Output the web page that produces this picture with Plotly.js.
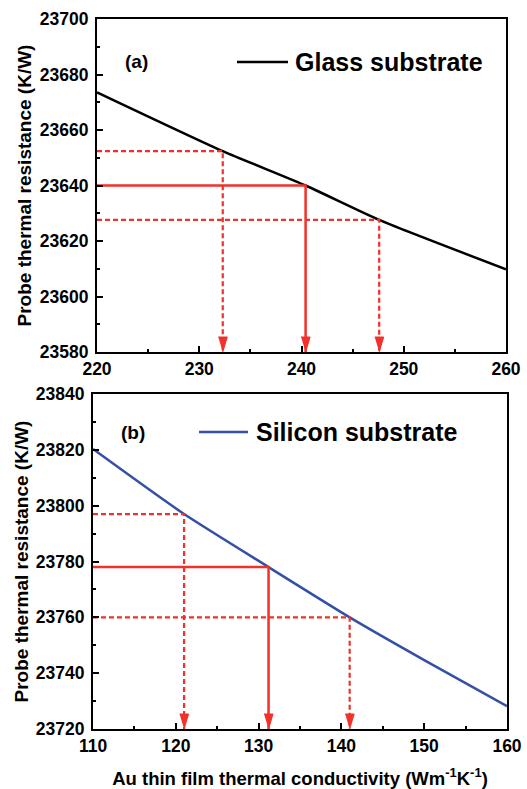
<!DOCTYPE html>
<html><head><meta charset="utf-8">
<script src="https://cdn.plot.ly/plotly-3.0.1.min.js"></script>
<style>html,body{margin:0;padding:0;background:#fff}#chart{width:527px;height:789px}</style>
</head><body><div id="chart"></div>
<script>
// ---- data ----
const glassK = [220, 232.3, 240.4, 247.6, 260];
const glassR = [23673.6, 23652.4, 23640, 23627.6, 23609.8];
const siK = [110, 121, 131.2, 141, 150, 160];
const siR = [23820.3, 23797, 23778, 23760, 23744.7, 23728.2];
// read-off guide lines: conductivity / resistance
const glassRefK = [232.3, 240.4, 247.6];
const glassRefR = [23652.4, 23640, 23627.6];
const siRefK = [121, 131.2, 141];
const siRefR = [23797, 23778, 23760];
const refStyle = ['dash', 'solid', 'dash'];
const glassXRange = [220, 260], glassYRange = [23580, 23700];
const siXRange = [110, 160], siYRange = [23720, 23840];
const xTitle = 'Au thin film thermal conductivity (Wm<sup>-1</sup>K<sup>-1</sup>)';
const yTitle = 'Probe thermal resistance (K/W)';

// ---- layout geometry ----
const W = 527, H = 789;
const topBox = {l: 97, r: 506, t: 19, b: 352};
const botBox = {l: 93, r: 507, t: 394, b: 729};
const RED = '#f2312b', BLUE = '#3450a6';
const FONT = 'Liberation Sans, Arial, sans-serif';

function refTraces(ks, rs, xr, yr, xa, ya, box) {
  const out = [];
  ks.forEach((k, i) => {
    out.push({
      x: [xr[0], k, k], y: [rs[i], rs[i], yr[0]], xaxis: xa, yaxis: ya,
      mode: 'lines', hoverinfo: 'skip',
      line: {color: RED, width: refStyle[i] === 'solid' ? 2.5 : 2.2,
             dash: refStyle[i] === 'solid' ? 'solid' : '5px,3px'}
    });
  });
  // arrow heads (triangles) at the bottom axis, sized in pixels
  const pxX = (xr[1] - xr[0]) / (box.r - box.l);
  const pxY = (yr[1] - yr[0]) / (box.b - box.t);
  const hw = 4.5 * pxX, hl = 15 * pxY;
  const ax = [], ay = [];
  ks.forEach(k => {
    ax.push(k - hw, k + hw, k, null);
    ay.push(yr[0] + hl, yr[0] + hl, yr[0], null);
  });
  out.push({x: ax, y: ay, xaxis: xa, yaxis: ya, mode: 'lines', fill: 'toself',
            fillcolor: RED, line: {color: RED, width: 1}, hoverinfo: 'skip'});
  return out;
}

const data = [
  {x: glassK, y: glassR, xaxis: 'x', yaxis: 'y', mode: 'lines', name: 'Glass substrate',
   line: {color: '#000', width: 2.5, shape: 'spline', smoothing: 0.6}},
  ...refTraces(glassRefK, glassRefR, glassXRange, glassYRange, 'x', 'y', topBox),
  {x: siK, y: siR, xaxis: 'x2', yaxis: 'y2', mode: 'lines', name: 'Silicon substrate',
   line: {color: BLUE, width: 2.5, shape: 'spline', smoothing: 0.6}},
  ...refTraces(siRefK, siRefR, siXRange, siYRange, 'x2', 'y2', botBox),
];

const tickFont = {family: FONT, size: 17.5, color: '#000', weight: 'bold'};
function axisBase() {
  return {
    ticks: 'inside', ticklen: 6, tickwidth: 2, tickcolor: '#000',
    showline: true, linewidth: 2, linecolor: '#000', mirror: true,
    showgrid: false, zeroline: false, tickfont: tickFont, fixedrange: true,
    tickformat: 'd', exponentformat: 'none'
  };
}

const layout = {
  width: W, height: H, margin: {l: 0, r: 0, t: 0, b: 0},
  font: {family: FONT, size: 17, color: '#000', weight: 'bold'},
  paper_bgcolor: '#fff', plot_bgcolor: '#fff', showlegend: false,
  xaxis: Object.assign(axisBase(), {
    domain: [topBox.l / W, topBox.r / W], range: glassXRange, anchor: 'y',
    tick0: 220, dtick: 10, minor: {dtick: 5, ticks: 'inside', ticklen: 3, tickwidth: 2, tickcolor: '#000'}
  }),
  yaxis: Object.assign(axisBase(), {
    domain: [1 - topBox.b / H, 1 - topBox.t / H], range: glassYRange, anchor: 'x',
    tick0: 23580, dtick: 20, ticklabelstandoff: 3,
    minor: {dtick: 10, ticks: 'inside', ticklen: 3, tickwidth: 2, tickcolor: '#000'},
    title: {text: yTitle, font: {family: FONT, size: 19, color: '#000', weight: 'bold'}, standoff: 3}
  }),
  xaxis2: Object.assign(axisBase(), {
    domain: [botBox.l / W, botBox.r / W], range: siXRange, anchor: 'y2',
    tick0: 110, dtick: 10, minor: {dtick: 5, ticks: 'inside', ticklen: 3, tickwidth: 2, tickcolor: '#000'},
    title: {text: xTitle, font: {family: FONT, size: 18.5, color: '#000', weight: 'bold'}, standoff: 29}
  }),
  yaxis2: Object.assign(axisBase(), {
    domain: [1 - botBox.b / H, 1 - botBox.t / H], range: siYRange, anchor: 'x2',
    tick0: 23720, dtick: 20, ticklabelstandoff: 3,
    minor: {dtick: 10, ticks: 'inside', ticklen: 3, tickwidth: 2, tickcolor: '#000'},
    title: {text: yTitle, font: {family: FONT, size: 19, color: '#000', weight: 'bold'}, standoff: 2}
  }),
  shapes: [
    {type: 'line', xref: 'paper', yref: 'paper', x0: 237 / W, x1: 288 / W, y0: 1 - 62 / H, y1: 1 - 62 / H,
     line: {color: '#000', width: 2.5}},
    {type: 'line', xref: 'paper', yref: 'paper', x0: 199 / W, x1: 248 / W, y0: 1 - 432 / H, y1: 1 - 432 / H,
     line: {color: BLUE, width: 2.5}}
  ],
  annotations: [
    {text: 'Glass substrate', xref: 'paper', yref: 'paper', x: 293 / W, y: 1 - 62 / H,
     xanchor: 'left', yanchor: 'middle', showarrow: false,
     font: {family: FONT, size: 25, color: '#000', weight: 'bold'}},
    {text: 'Silicon substrate', xref: 'paper', yref: 'paper', x: 254 / W, y: 1 - 432 / H,
     xanchor: 'left', yanchor: 'middle', showarrow: false,
     font: {family: FONT, size: 25, color: '#000', weight: 'bold'}},
    {text: '(a)', xref: 'paper', yref: 'paper', x: 123 / W, y: 1 - 62 / H,
     xanchor: 'left', yanchor: 'middle', showarrow: false,
     font: {family: FONT, size: 19, color: '#000', weight: 'bold'}},
    {text: '(b)', xref: 'paper', yref: 'paper', x: 119 / W, y: 1 - 433 / H,
     xanchor: 'left', yanchor: 'middle', showarrow: false,
     font: {family: FONT, size: 19, color: '#000', weight: 'bold'}}
  ]
};

Plotly.newPlot('chart', data, layout, {staticPlot: true, displayModeBar: false});
</script>
</body></html>
